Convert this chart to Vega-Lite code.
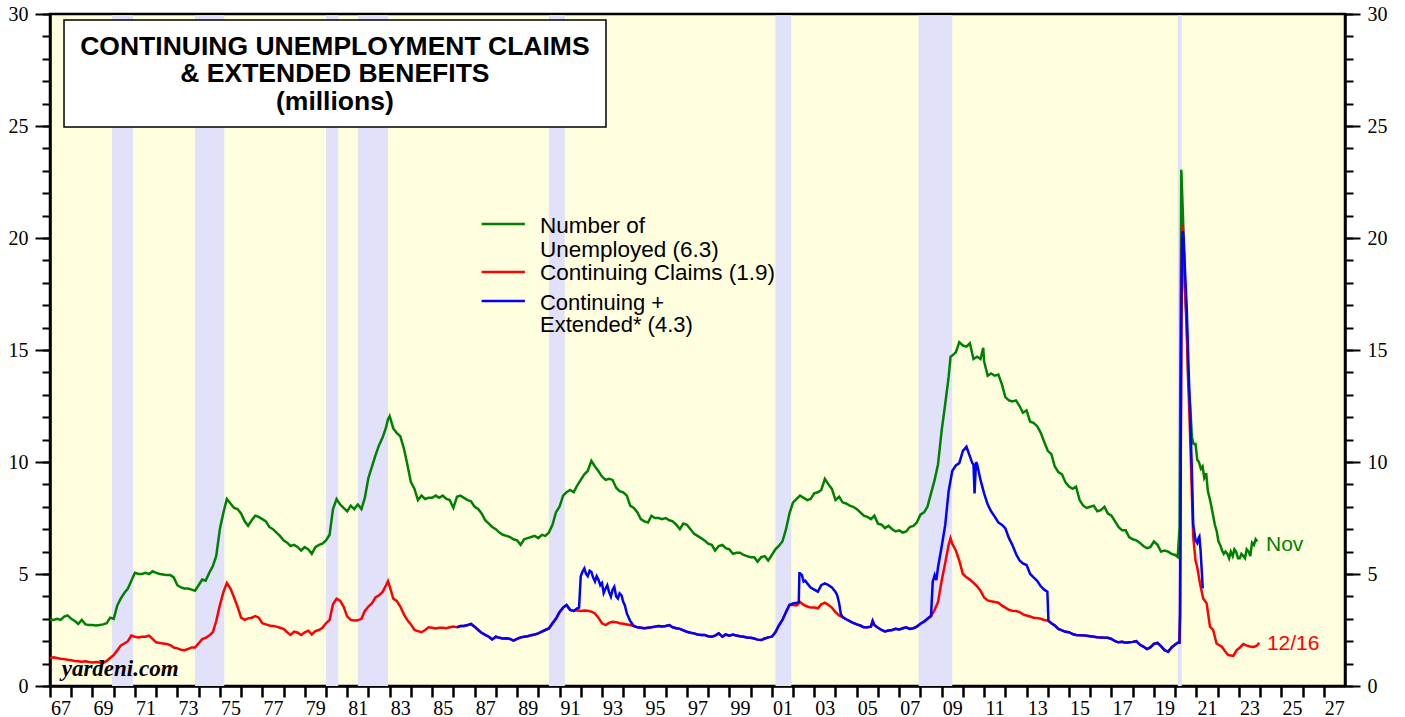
{
  "$schema": "https://vega.github.io/schema/vega-lite/v6.json",
  "width": 1295,
  "height": 672,
  "autosize": {"type": "none"},
  "padding": {"left": 50, "top": 14, "right": 60, "bottom": 31},
  "background": "#FFFFFF",
  "config": {
    "view": {"fill": "#FFFFE0", "stroke": "#000000", "strokeWidth": 2.5},
    "axis": {"labelFont": "Liberation Serif", "labelFontSize": 20, "labelColor": "#000000", "tickColor": "#000000", "domainColor": "#000000", "title": null, "grid": false, "labelOverlap": false, "labelBound": false, "labelFlush": false, "zindex": 1}
  },
  "resolve": {"axis": {"x": "independent", "y": "independent"}},
  "datasets": {
    "rec": [
      {"start": 1969.92, "end": 1970.92},
      {"start": 1973.83, "end": 1975.21},
      {"start": 1980.0, "end": 1980.58},
      {"start": 1981.5, "end": 1982.92},
      {"start": 1990.5, "end": 1991.25},
      {"start": 2001.17, "end": 2001.92},
      {"start": 2007.92, "end": 2009.5},
      {"start": 2020.12, "end": 2020.31}
    ],
    "series": [
      {"t":1967,"u":2.97,"c":1.24},{"t":1967.17,"u":2.95,"c":1.28},{"t":1967.33,"u":3.0,"c":1.25},{"t":1967.5,"u":2.95,"c":1.22},{"t":1967.67,"u":3.1,"c":1.2},{"t":1967.83,"u":3.15,"c":1.17},
      {"t":1968,"u":3.0,"c":1.15},{"t":1968.17,"u":2.9,"c":1.12},{"t":1968.33,"u":2.77,"c":1.1},{"t":1968.5,"u":2.95,"c":1.08},{"t":1968.67,"u":2.75,"c":1.1},{"t":1968.83,"u":2.72,"c":1.07},
      {"t":1969,"u":2.72,"c":1.05},{"t":1969.17,"u":2.7,"c":1.07},{"t":1969.33,"u":2.72,"c":1.05},{"t":1969.5,"u":2.75,"c":1.03},{"t":1969.67,"u":2.8,"c":1.12},{"t":1969.83,"u":3.05,"c":1.25},
      {"t":1970,"u":3.0,"c":1.38},{"t":1970.17,"u":3.6,"c":1.6},{"t":1970.33,"u":3.9,"c":1.8},{"t":1970.5,"u":4.15,"c":1.9},{"t":1970.67,"u":4.35,"c":2.0},{"t":1970.83,"u":4.7,"c":2.25},
      {"t":1971,"u":5.05,"c":2.2},{"t":1971.17,"u":5.0,"c":2.17},{"t":1971.33,"u":5.0,"c":2.2},{"t":1971.5,"u":5.05,"c":2.2},{"t":1971.67,"u":5.0,"c":2.25},{"t":1971.83,"u":5.12,"c":2.1},
      {"t":1972,"u":5.05,"c":1.95},{"t":1972.17,"u":5.0,"c":1.92},{"t":1972.33,"u":4.98,"c":1.9},{"t":1972.5,"u":4.95,"c":1.88},{"t":1972.67,"u":4.95,"c":1.82},{"t":1972.83,"u":4.85,"c":1.72},
      {"t":1973,"u":4.5,"c":1.68},{"t":1973.17,"u":4.4,"c":1.62},{"t":1973.33,"u":4.35,"c":1.6},{"t":1973.5,"u":4.35,"c":1.65},{"t":1973.67,"u":4.3,"c":1.72},{"t":1973.83,"u":4.25,"c":1.72},
      {"t":1974,"u":4.5,"c":1.9},{"t":1974.17,"u":4.75,"c":2.1},{"t":1974.33,"u":4.7,"c":2.15},{"t":1974.5,"u":5.05,"c":2.25},{"t":1974.67,"u":5.35,"c":2.4},{"t":1974.83,"u":5.8,"c":2.9},
      {"t":1975,"u":7.0,"c":3.6},{"t":1975.17,"u":7.75,"c":4.2},{"t":1975.33,"u":8.35,"c":4.6},{"t":1975.5,"u":8.15,"c":4.35},{"t":1975.67,"u":7.95,"c":3.95},{"t":1975.83,"u":7.9,"c":3.55},
      {"t":1976,"u":7.7,"c":3.05},{"t":1976.17,"u":7.35,"c":2.95},{"t":1976.33,"u":7.15,"c":3.02},{"t":1976.5,"u":7.4,"c":3.05},{"t":1976.67,"u":7.6,"c":3.12},{"t":1976.83,"u":7.55,"c":3.05},
      {"t":1977,"u":7.45,"c":2.8},{"t":1977.17,"u":7.35,"c":2.75},{"t":1977.33,"u":7.1,"c":2.7},{"t":1977.5,"u":7.0,"c":2.68},{"t":1977.67,"u":6.85,"c":2.65},{"t":1977.83,"u":6.7,"c":2.6},
      {"t":1978,"u":6.5,"c":2.55},{"t":1978.17,"u":6.4,"c":2.4},{"t":1978.33,"u":6.25,"c":2.28},{"t":1978.5,"u":6.3,"c":2.43},{"t":1978.67,"u":6.2,"c":2.38},{"t":1978.83,"u":6.05,"c":2.28},
      {"t":1979,"u":6.2,"c":2.4},{"t":1979.17,"u":6.1,"c":2.47},{"t":1979.33,"u":5.9,"c":2.3},{"t":1979.5,"u":6.2,"c":2.45},{"t":1979.67,"u":6.3,"c":2.5},{"t":1979.83,"u":6.35,"c":2.6},
      {"t":1980,"u":6.5,"c":2.8},{"t":1980.17,"u":6.75,"c":2.95},{"t":1980.33,"u":7.9,"c":3.65},{"t":1980.5,"u":8.35,"c":3.9},{"t":1980.67,"u":8.1,"c":3.8},{"t":1980.83,"u":7.95,"c":3.55},
      {"t":1981,"u":7.8,"c":3.1},{"t":1981.17,"u":8.05,"c":2.95},{"t":1981.33,"u":7.9,"c":2.92},{"t":1981.5,"u":8.1,"c":2.93},{"t":1981.67,"u":7.9,"c":3.0},{"t":1981.83,"u":8.4,"c":3.35},
      {"t":1982,"u":9.3,"c":3.55},{"t":1982.17,"u":9.8,"c":3.7},{"t":1982.33,"u":10.3,"c":3.95},{"t":1982.5,"u":10.75,"c":4.05},{"t":1982.67,"u":11.1,"c":4.2},{"t":1982.83,"u":11.55,"c":4.5},{"t":1982.92,"u":11.9,"c":4.68},
      {"t":1983,"u":12.05,"c":4.45},{"t":1983.17,"u":11.5,"c":3.9},{"t":1983.33,"u":11.3,"c":3.8},{"t":1983.5,"u":11.15,"c":3.55},{"t":1983.67,"u":10.6,"c":3.2},{"t":1983.83,"u":9.9,"c":2.95},
      {"t":1984,"u":9.1,"c":2.75},{"t":1984.17,"u":8.8,"c":2.5},{"t":1984.33,"u":8.3,"c":2.45},{"t":1984.5,"u":8.5,"c":2.4},{"t":1984.67,"u":8.35,"c":2.5},{"t":1984.83,"u":8.4,"c":2.62},
      {"t":1985,"u":8.4,"c":2.6},{"t":1985.17,"u":8.5,"c":2.57},{"t":1985.33,"u":8.4,"c":2.6},{"t":1985.5,"u":8.5,"c":2.6},{"t":1985.67,"u":8.35,"c":2.58},{"t":1985.83,"u":8.3,"c":2.62},
      {"t":1986,"u":7.95,"c":2.65},{"t":1986.17,"u":8.45,"c":2.62,"e":2.62},{"t":1986.33,"u":8.5,"c":2.68,"e":2.68},{"t":1986.5,"u":8.4,"c":2.68,"e":2.68},{"t":1986.67,"u":8.3,"c":2.72,"e":2.72},{"t":1986.83,"u":8.25,"c":2.77,"e":2.77},
      {"t":1987,"u":8.0,"c":2.65,"e":2.65},{"t":1987.17,"u":7.9,"c":2.5,"e":2.5},{"t":1987.33,"u":7.7,"c":2.38,"e":2.38},{"t":1987.5,"u":7.4,"c":2.28,"e":2.28},{"t":1987.67,"u":7.25,"c":2.2,"e":2.2},{"t":1987.83,"u":7.1,"c":2.08,"e":2.08},
      {"t":1988,"u":7.0,"c":2.2,"e":2.2},{"t":1988.17,"u":6.85,"c":2.15,"e":2.15},{"t":1988.33,"u":6.75,"c":2.12,"e":2.12},{"t":1988.5,"u":6.7,"c":2.13,"e":2.13},{"t":1988.67,"u":6.65,"c":2.1,"e":2.1},{"t":1988.83,"u":6.55,"c":2.03,"e":2.03},
      {"t":1989,"u":6.5,"c":2.1,"e":2.1},{"t":1989.17,"u":6.3,"c":2.17,"e":2.17},{"t":1989.33,"u":6.55,"c":2.2,"e":2.2},{"t":1989.5,"u":6.6,"c":2.22,"e":2.22},{"t":1989.67,"u":6.65,"c":2.27,"e":2.27},{"t":1989.83,"u":6.7,"c":2.3,"e":2.3},
      {"t":1990,"u":6.6,"c":2.35,"e":2.35},{"t":1990.17,"u":6.75,"c":2.43,"e":2.43},{"t":1990.33,"u":6.7,"c":2.5,"e":2.5},{"t":1990.5,"u":6.85,"c":2.57,"e":2.57},{"t":1990.67,"u":7.2,"c":2.8,"e":2.8},{"t":1990.83,"u":7.75,"c":3.0,"e":3.0},
      {"t":1991,"u":8.0,"c":3.3,"e":3.3},{"t":1991.17,"u":8.5,"c":3.5,"e":3.5},{"t":1991.33,"u":8.65,"c":3.62,"e":3.62},{"t":1991.5,"u":8.75,"c":3.4,"e":3.4},{"t":1991.67,"u":8.65,"c":3.35,"e":3.35},{"t":1991.83,"u":8.95,"c":3.38,"e":3.47},{"t":1991.92,"e":3.5},
      {"t":1992,"u":9.2,"c":3.35,"e":4.9},{"t":1992.08,"e":5.1},{"t":1992.17,"u":9.45,"c":3.37,"e":5.25},{"t":1992.25,"e":5.0},{"t":1992.33,"u":9.6,"c":3.36,"e":4.9},{"t":1992.42,"e":5.15},{"t":1992.5,"u":10.05,"c":3.32,"e":5.1},{"t":1992.58,"e":4.85},{"t":1992.67,"u":9.8,"c":3.24,"e":4.66},{"t":1992.75,"e":4.9},{"t":1992.83,"u":9.6,"c":3.05,"e":4.75},{"t":1992.92,"e":4.5},
      {"t":1993,"u":9.35,"c":2.8,"e":4.6},{"t":1993.08,"e":4.15},{"t":1993.17,"u":9.2,"c":2.72,"e":4.35},{"t":1993.25,"e":4.5},{"t":1993.33,"u":9.25,"c":2.82,"e":4.2},{"t":1993.42,"e":3.99},{"t":1993.5,"u":9.2,"c":2.87,"e":4.3},{"t":1993.58,"e":4.43},{"t":1993.67,"u":8.85,"c":2.85,"e":4.0},{"t":1993.75,"e":3.91},{"t":1993.83,"u":8.7,"c":2.8,"e":4.14},{"t":1993.92,"e":4.05},
      {"t":1994,"u":8.65,"c":2.78,"e":3.76},{"t":1994.08,"e":3.6},{"t":1994.17,"u":8.5,"c":2.75,"e":3.24},{"t":1994.33,"u":8.05,"c":2.72,"e":2.9},{"t":1994.5,"u":7.95,"c":2.68,"e":2.68},{"t":1994.67,"u":7.75,"c":2.62,"e":2.62},{"t":1994.83,"u":7.45,"c":2.6,"e":2.6},
      {"t":1995,"u":7.35,"c":2.58,"e":2.58},{"t":1995.17,"u":7.3,"c":2.6,"e":2.6},{"t":1995.33,"u":7.6,"c":2.62,"e":2.62},{"t":1995.5,"u":7.5,"c":2.65,"e":2.65},{"t":1995.67,"u":7.5,"c":2.68,"e":2.68},{"t":1995.83,"u":7.45,"c":2.66,"e":2.66},
      {"t":1996,"u":7.5,"c":2.68,"e":2.68},{"t":1996.17,"u":7.4,"c":2.72,"e":2.72},{"t":1996.33,"u":7.35,"c":2.62,"e":2.62},{"t":1996.5,"u":7.2,"c":2.58,"e":2.58},{"t":1996.67,"u":7.0,"c":2.55,"e":2.55},{"t":1996.83,"u":7.25,"c":2.48,"e":2.48},
      {"t":1997,"u":7.2,"c":2.42,"e":2.42},{"t":1997.17,"u":7.0,"c":2.38,"e":2.38},{"t":1997.33,"u":6.8,"c":2.35,"e":2.35},{"t":1997.5,"u":6.7,"c":2.3,"e":2.3},{"t":1997.67,"u":6.6,"c":2.28,"e":2.28},{"t":1997.83,"u":6.5,"c":2.28,"e":2.28},
      {"t":1998,"u":6.35,"c":2.22,"e":2.22},{"t":1998.17,"u":6.3,"c":2.2,"e":2.2},{"t":1998.33,"u":6.05,"c":2.25,"e":2.25},{"t":1998.5,"u":6.25,"c":2.35,"e":2.35},{"t":1998.67,"u":6.3,"c":2.2,"e":2.2},{"t":1998.83,"u":6.15,"c":2.3,"e":2.3},
      {"t":1999,"u":6.1,"c":2.25,"e":2.25},{"t":1999.17,"u":5.9,"c":2.3,"e":2.3},{"t":1999.33,"u":5.95,"c":2.25,"e":2.25},{"t":1999.5,"u":5.95,"c":2.22,"e":2.22},{"t":1999.67,"u":5.85,"c":2.2,"e":2.2},{"t":1999.83,"u":5.8,"c":2.17,"e":2.17},
      {"t":2000,"u":5.75,"c":2.15,"e":2.15},{"t":2000.17,"u":5.75,"c":2.12,"e":2.12},{"t":2000.33,"u":5.55,"c":2.07,"e":2.07},{"t":2000.5,"u":5.75,"c":2.05,"e":2.05},{"t":2000.67,"u":5.8,"c":2.12,"e":2.12},{"t":2000.83,"u":5.6,"c":2.17,"e":2.17},
      {"t":2001,"u":5.85,"c":2.2,"e":2.2},{"t":2001.17,"u":6.1,"c":2.4,"e":2.4},{"t":2001.33,"u":6.25,"c":2.7,"e":2.7},{"t":2001.5,"u":6.45,"c":2.95,"e":2.95},{"t":2001.67,"u":7.0,"c":3.3,"e":3.3},{"t":2001.83,"u":7.7,"c":3.62,"e":3.62},
      {"t":2002,"u":8.2,"c":3.62,"e":3.69},{"t":2002.17,"u":8.35,"c":3.6,"e":3.72},{"t":2002.27,"e":3.75},{"t":2002.3,"e":5.03},{"t":2002.33,"u":8.5,"c":3.75,"e":5.03},{"t":2002.42,"e":4.95},{"t":2002.5,"u":8.4,"c":3.62,"e":4.66},{"t":2002.58,"e":4.7},{"t":2002.67,"u":8.3,"c":3.55,"e":4.58},{"t":2002.83,"u":8.35,"c":3.5,"e":4.4},
      {"t":2003,"u":8.6,"c":3.5,"e":4.3},{"t":2003.17,"u":8.65,"c":3.47,"e":4.21},{"t":2003.33,"u":8.75,"c":3.65,"e":4.5},{"t":2003.5,"u":9.25,"c":3.72,"e":4.58},{"t":2003.67,"u":9.0,"c":3.62,"e":4.5},{"t":2003.83,"u":8.8,"c":3.5,"e":4.4},
      {"t":2004,"u":8.3,"c":3.3,"e":4.2},{"t":2004.08,"e":4.05},{"t":2004.17,"u":8.45,"c":3.15,"e":3.7},{"t":2004.25,"e":3.22},{"t":2004.33,"u":8.2,"c":3.08,"e":3.08},{"t":2004.5,"u":8.15,"c":2.98,"e":2.98},{"t":2004.67,"u":8.05,"c":2.9,"e":2.9},{"t":2004.83,"u":8.0,"c":2.82,"e":2.82},
      {"t":2005,"u":7.9,"c":2.75,"e":2.75},{"t":2005.17,"u":7.75,"c":2.7,"e":2.7},{"t":2005.33,"u":7.6,"c":2.62,"e":2.62},{"t":2005.5,"u":7.55,"c":2.62,"e":2.62},{"t":2005.67,"u":7.45,"c":2.65,"e":2.65},{"t":2005.75,"c":2.9,"e":2.9},{"t":2005.83,"u":7.6,"c":2.72,"e":2.72},
      {"t":2006,"u":7.25,"c":2.6,"e":2.6},{"t":2006.17,"u":7.2,"c":2.5,"e":2.5},{"t":2006.33,"u":7.05,"c":2.44,"e":2.44},{"t":2006.5,"u":7.15,"c":2.48,"e":2.48},{"t":2006.67,"u":7.0,"c":2.5,"e":2.5},{"t":2006.83,"u":6.9,"c":2.55,"e":2.55},
      {"t":2007,"u":6.95,"c":2.52,"e":2.52},{"t":2007.17,"u":6.85,"c":2.58,"e":2.58},{"t":2007.33,"u":6.9,"c":2.62,"e":2.62},{"t":2007.5,"u":7.1,"c":2.55,"e":2.55},{"t":2007.67,"u":7.15,"c":2.58,"e":2.58},{"t":2007.83,"u":7.3,"c":2.65,"e":2.65},
      {"t":2008,"u":7.65,"c":2.78,"e":2.78},{"t":2008.17,"u":7.75,"c":2.87,"e":2.87},{"t":2008.33,"u":8.0,"c":3.0,"e":3.0},{"t":2008.5,"u":8.6,"c":3.12,"e":3.12},{"t":2008.58,"e":4.66},{"t":2008.67,"u":9.2,"c":3.4,"e":4.95},{"t":2008.75,"e":4.73},{"t":2008.83,"u":9.9,"c":3.75,"e":5.3},
      {"t":2009,"u":11.4,"c":4.7,"e":6.22},{"t":2009.17,"u":12.6,"c":5.5,"e":7.2},{"t":2009.33,"u":13.8,"c":6.3,"e":8.7},{"t":2009.42,"u":14.7,"c":6.6},{"t":2009.5,"u":14.75,"c":6.35,"e":9.6},{"t":2009.67,"u":14.9,"c":6.05,"e":9.85},{"t":2009.83,"u":15.35,"c":5.6,"e":9.95},
      {"t":2010,"u":15.2,"c":5.0,"e":10.5},{"t":2010.17,"u":15.15,"c":4.85,"e":10.68},{"t":2010.33,"u":15.3,"c":4.75,"e":10.25},{"t":2010.45,"e":9.94},{"t":2010.5,"u":14.6,"c":4.6,"e":9.9},{"t":2010.55,"e":8.6},{"t":2010.62,"e":10.0},{"t":2010.67,"u":14.7,"c":4.45,"e":9.9},{"t":2010.83,"u":14.6,"c":4.25,"e":9.2},{"t":2010.96,"u":15.1},
      {"t":2011,"u":14.5,"c":3.95,"e":8.6},{"t":2011.17,"u":13.85,"c":3.82,"e":8.1},{"t":2011.33,"u":13.95,"c":3.78,"e":7.8},{"t":2011.5,"u":13.85,"c":3.75,"e":7.56},{"t":2011.67,"u":13.9,"c":3.72,"e":7.3},{"t":2011.83,"u":13.5,"c":3.6,"e":7.2},
      {"t":2012,"u":12.9,"c":3.5,"e":7.04},{"t":2012.17,"u":12.75,"c":3.4,"e":6.6},{"t":2012.33,"u":12.7,"c":3.36,"e":6.3},{"t":2012.5,"u":12.75,"c":3.35,"e":5.9},{"t":2012.67,"u":12.5,"c":3.3,"e":5.6},{"t":2012.83,"u":12.2,"c":3.2,"e":5.47},
      {"t":2013,"u":12.3,"c":3.15,"e":5.4},{"t":2013.17,"u":11.8,"c":3.1,"e":5.0},{"t":2013.33,"u":11.75,"c":3.05,"e":4.85},{"t":2013.5,"u":11.6,"c":3.03,"e":4.7},{"t":2013.67,"u":11.3,"c":3.0,"e":4.45},{"t":2013.83,"u":10.9,"c":2.95,"e":4.3},{"t":2013.98,"e":4.21},
      {"t":2014,"u":10.5,"c":2.92},{"t":2014.03,"e":2.92},{"t":2014.17,"u":10.35,"c":2.8,"e":2.8},{"t":2014.33,"u":9.8,"c":2.7,"e":2.7},{"t":2014.5,"u":9.55,"c":2.55,"e":2.55},{"t":2014.67,"u":9.45,"c":2.48,"e":2.48},{"t":2014.83,"u":9.1,"c":2.42,"e":2.42},
      {"t":2015,"u":8.9,"c":2.4,"e":2.4},{"t":2015.17,"u":8.8,"c":2.32,"e":2.32},{"t":2015.33,"u":8.9,"c":2.28,"e":2.28},{"t":2015.5,"u":8.3,"c":2.27,"e":2.27},{"t":2015.67,"u":8.05,"c":2.26,"e":2.26},{"t":2015.83,"u":7.95,"c":2.24,"e":2.24},
      {"t":2016,"u":8.0,"c":2.22,"e":2.22},{"t":2016.17,"u":8.05,"c":2.2,"e":2.2},{"t":2016.33,"u":7.8,"c":2.18,"e":2.18},{"t":2016.5,"u":7.85,"c":2.17,"e":2.17},{"t":2016.67,"u":8.0,"c":2.15,"e":2.15},{"t":2016.83,"u":7.7,"c":2.15,"e":2.15},
      {"t":2017,"u":7.6,"c":2.1,"e":2.1},{"t":2017.17,"u":7.35,"c":2.0,"e":2.0},{"t":2017.33,"u":7.1,"c":1.95,"e":1.95},{"t":2017.5,"u":6.95,"c":1.97,"e":1.97},{"t":2017.67,"u":6.95,"c":1.93,"e":1.93},{"t":2017.83,"u":6.65,"c":1.95,"e":1.95},
      {"t":2018,"u":6.55,"c":1.97,"e":1.97},{"t":2018.17,"u":6.5,"c":2.0,"e":2.0},{"t":2018.33,"u":6.4,"c":1.85,"e":1.85},{"t":2018.5,"u":6.25,"c":1.76,"e":1.76},{"t":2018.67,"u":6.15,"c":1.65,"e":1.65},{"t":2018.83,"u":6.2,"c":1.72,"e":1.72},
      {"t":2019,"u":6.45,"c":1.88,"e":1.88},{"t":2019.17,"u":6.3,"c":1.92,"e":1.92},{"t":2019.33,"u":6.0,"c":1.78,"e":1.78},{"t":2019.5,"u":6.05,"c":1.6,"e":1.6},{"t":2019.67,"u":6.0,"c":1.53,"e":1.53},{"t":2019.83,"u":5.9,"c":1.72,"e":1.72},
      {"t":2020,"u":5.85,"c":1.85,"e":1.85},{"t":2020.12,"u":5.76,"c":1.93,"e":1.93},{"t":2020.2,"c":1.93,"e":1.93},{"t":2020.21,"u":7.1},{"t":2020.23,"c":3.2,"e":3.2},{"t":2020.25,"c":7.5,"e":7.5},{"t":2020.27,"c":12,"e":12},{"t":2020.29,"u":23.05,"c":16,"e":16},{"t":2020.31,"c":18.5,"e":18.6},{"t":2020.33,"c":20.3,"e":20.1},{"t":2020.36,"c":20.6,"e":20.3},{"t":2020.37,"u":20.9},{"t":2020.4,"c":19.6,"e":20.0},{"t":2020.46,"u":17.7,"c":17.8,"e":18.6},{"t":2020.54,"u":16.3,"c":16,"e":17},{"t":2020.62,"u":13.5,"c":13.5,"e":14.5},{"t":2020.71,"u":12.5,"c":11,"e":12},{"t":2020.79,"u":11.1,"c":8.5,"e":9.5},{"t":2020.85,"c":6.67,"e":7.2},{"t":2020.87,"u":10.8},{"t":2020.96,"u":10.8,"c":5.6,"e":6.5},
      {"t":2021.04,"u":10.1,"c":5.3,"e":6.38},{"t":2021.1,"e":6.6},{"t":2021.12,"u":10.0},{"t":2021.14,"e":6.67},{"t":2021.17,"c":4.58},{"t":2021.2,"e":6.0},{"t":2021.21,"u":9.7},{"t":2021.29,"u":9.8},{"t":2021.3,"e":4.36},{"t":2021.32,"c":3.91},{"t":2021.37,"u":9.3},{"t":2021.46,"u":9.5},{"t":2021.48,"c":3.7},{"t":2021.54,"u":8.7},{"t":2021.62,"u":8.4},{"t":2021.64,"c":2.65},{"t":2021.71,"u":8.0},{"t":2021.79,"u":7.6,"c":2.5},{"t":2021.87,"u":7.2},{"t":2021.95,"c":1.9},{"t":2021.96,"u":6.9},
      {"t":2022.04,"u":6.45,"c":1.84},{"t":2022.12,"u":6.3},{"t":2022.19,"c":1.76},{"t":2022.21,"u":6.05},{"t":2022.29,"u":5.9},{"t":2022.35,"c":1.55},{"t":2022.37,"u":6.0},{"t":2022.46,"u":5.9},{"t":2022.5,"c":1.38},{"t":2022.54,"u":5.7},{"t":2022.62,"u":6.0,"c":1.36},{"t":2022.71,"u":5.8},{"t":2022.74,"c":1.34},{"t":2022.79,"u":6.1},{"t":2022.87,"u":6.0},{"t":2022.9,"c":1.6},{"t":2022.96,"u":5.7},
      {"t":2023.04,"u":5.7},{"t":2023.05,"c":1.72},{"t":2023.12,"u":5.9},{"t":2023.21,"u":5.8,"c":1.87},{"t":2023.29,"u":5.7},{"t":2023.37,"u":6.1,"c":1.8},{"t":2023.46,"u":6.0},{"t":2023.52,"c":1.76},{"t":2023.54,"u":5.8},{"t":2023.62,"u":6.4},{"t":2023.7,"c":1.74},{"t":2023.71,"u":6.3},{"t":2023.79,"u":6.55},{"t":2023.85,"c":1.8},{"t":2023.87,"u":6.45},{"t":2023.96,"c":1.93}
    ]
  },
  "layer": [
    {
      "data": {"name": "rec"},
      "mark": {"type": "rect", "color": "#E1E1F9"},
      "encoding": {
        "x": {"field": "start", "type": "quantitative", "scale": {"domain": [1967, 2028], "nice": false, "zero": false},
          "axis": {"orient": "bottom", "values": [1967,1968,1969,1970,1971,1972,1973,1974,1975,1976,1977,1978,1979,1980,1981,1982,1983,1984,1985,1986,1987,1988,1989,1990,1991,1992,1993,1994,1995,1996,1997,1998,1999,2000,2001,2002,2003,2004,2005,2006,2007,2008,2009,2010,2011,2012,2013,2014,2015,2016,2017,2018,2019,2020,2021,2022,2023,2024,2025,2026,2027],
            "format": "d", "labelExpr": "datum.value % 2 == 1 ? substring(datum.label, 2, 4) : ''", "labelOffset": 10.6, "tickSize": 11, "tickWidth": 2.5, "domain": true, "domainWidth": 2.5, "labelPadding": 1}},
        "x2": {"field": "end"},
        "y": {"datum": 0, "type": "quantitative", "scale": {"domain": [0, 30], "nice": false},
          "axis": {"orient": "left", "values": [0,1,2,3,4,5,6,7,8,9,10,11,12,13,14,15,16,17,18,19,20,21,22,23,24,25,26,27,28,29,30], "tickSize": 8, "tickWidth": 2, "labels": false, "domain": false}},
        "y2": {"datum": 29.94}
      }
    },
    {
      "data": {"values": [{}]},
      "mark": {"type": "rect", "fill": "#FFFFFF", "stroke": "#000000", "strokeWidth": 1.5},
      "encoding": {
        "x": {"datum": 1967.66, "type": "quantitative", "scale": {"domain": [1967, 2028], "nice": false, "zero": false}, "axis": null},
        "x2": {"datum": 1993.19},
        "y": {"datum": 24.96, "type": "quantitative", "scale": {"domain": [0, 30], "nice": false},
          "axis": {"orient": "right", "values": [0,1,2,3,4,5,6,7,8,9,10,11,12,13,14,15,16,17,18,19,20,21,22,23,24,25,26,27,28,29,30], "tickSize": 8, "tickWidth": 2, "labels": false, "domain": false}},
        "y2": {"datum": 29.73}
      }
    },
    {
      "data": {"name": "series"},
      "transform": [{"filter": "isValid(datum.u)"}],
      "mark": {"type": "line", "color": "#008000", "strokeWidth": 2.5},
      "encoding": {
        "x": {"field": "t", "type": "quantitative", "scale": {"domain": [1967, 2028], "nice": false, "zero": false}, "axis": null},
        "y": {"field": "u", "type": "quantitative", "scale": {"domain": [0, 30], "nice": false},
          "axis": {"orient": "left", "values": [0, 5, 10, 15, 20, 25, 30], "tickSize": 15, "tickWidth": 2, "labelPadding": 7, "domain": true, "domainWidth": 2.5}}
      }
    },
    {
      "data": {"name": "series"},
      "transform": [{"filter": "isValid(datum.c)"}],
      "mark": {"type": "line", "color": "#FF0000", "strokeWidth": 2.5},
      "encoding": {
        "x": {"field": "t", "type": "quantitative", "scale": {"domain": [1967, 2028], "nice": false, "zero": false}, "axis": null},
        "y": {"field": "c", "type": "quantitative", "scale": {"domain": [0, 30], "nice": false}, "axis": null}
      }
    },
    {
      "data": {"name": "series"},
      "transform": [{"filter": "isValid(datum.e)"}],
      "mark": {"type": "line", "color": "#0000FF", "strokeWidth": 2.5},
      "encoding": {
        "x": {"field": "t", "type": "quantitative", "scale": {"domain": [1967, 2028], "nice": false, "zero": false}, "axis": null},
        "y": {"field": "e", "type": "quantitative", "scale": {"domain": [0, 30], "nice": false}, "axis": null}
      }
    },
    {
      "data": {"values": [{}]},
      "mark": {"type": "text", "text": ["CONTINUING UNEMPLOYMENT CLAIMS", "& EXTENDED BENEFITS", "(millions)"], "font": "Liberation Sans", "fontWeight": "bold", "fontSize": 26.5, "lineHeight": 27.5, "align": "center", "baseline": "alphabetic", "color": "#000000"},
      "encoding": {
        "x": {"datum": 1980.42, "type": "quantitative", "scale": {"domain": [1967, 2028], "nice": false, "zero": false}, "axis": null},
        "y": {"datum": 28.17, "type": "quantitative", "scale": {"domain": [0, 30], "nice": false},
          "axis": {"orient": "right", "values": [0, 5, 10, 15, 20, 25, 30], "tickSize": 15, "tickWidth": 2, "labelPadding": 7, "domain": true, "domainWidth": 2.5}}
      }
    },
    {
      "data": {"values": [{}]},
      "mark": {"type": "rule", "color": "#008000", "strokeWidth": 2.5},
      "encoding": {
        "x": {"datum": 1987.33, "type": "quantitative", "scale": {"domain": [1967, 2028], "nice": false, "zero": false}, "axis": null},
        "x2": {"datum": 1989.37},
        "y": {"datum": 20.625, "type": "quantitative", "scale": {"domain": [0, 30], "nice": false}, "axis": null}
      }
    },
    {
      "data": {"values": [{}]},
      "mark": {"type": "rule", "color": "#FF0000", "strokeWidth": 2.5},
      "encoding": {
        "x": {"datum": 1987.33, "type": "quantitative", "scale": {"domain": [1967, 2028], "nice": false, "zero": false}, "axis": null},
        "x2": {"datum": 1989.37},
        "y": {"datum": 18.48, "type": "quantitative", "scale": {"domain": [0, 30], "nice": false}, "axis": null}
      }
    },
    {
      "data": {"values": [{}]},
      "mark": {"type": "rule", "color": "#0000FF", "strokeWidth": 2.5},
      "encoding": {
        "x": {"datum": 1987.33, "type": "quantitative", "scale": {"domain": [1967, 2028], "nice": false, "zero": false}, "axis": null},
        "x2": {"datum": 1989.37},
        "y": {"datum": 17.19, "type": "quantitative", "scale": {"domain": [0, 30], "nice": false}, "axis": null}
      }
    },
    {
      "data": {"values": [{}]},
      "mark": {"type": "text", "text": ["Number of", "Unemployed (6.3)"], "font": "Liberation Sans", "fontSize": 22.5, "lineHeight": 23.4, "align": "left", "baseline": "alphabetic", "color": "#000000"},
      "encoding": {
        "x": {"datum": 1990.08, "type": "quantitative", "scale": {"domain": [1967, 2028], "nice": false, "zero": false}, "axis": null},
        "y": {"datum": 20.21, "type": "quantitative", "scale": {"domain": [0, 30], "nice": false}, "axis": null}
      }
    },
    {
      "data": {"values": [{}]},
      "mark": {"type": "text", "text": "Continuing Claims (1.9)", "font": "Liberation Sans", "fontSize": 22.5, "align": "left", "baseline": "alphabetic", "color": "#000000"},
      "encoding": {
        "x": {"datum": 1990.08, "type": "quantitative", "scale": {"domain": [1967, 2028], "nice": false, "zero": false}, "axis": null},
        "y": {"datum": 18.125, "type": "quantitative", "scale": {"domain": [0, 30], "nice": false}, "axis": null}
      }
    },
    {
      "data": {"values": [{}]},
      "mark": {"type": "text", "text": ["Continuing +", "Extended* (4.3)"], "font": "Liberation Sans", "fontSize": 22, "lineHeight": 22.5, "align": "left", "baseline": "alphabetic", "color": "#000000"},
      "encoding": {
        "x": {"datum": 1990.08, "type": "quantitative", "scale": {"domain": [1967, 2028], "nice": false, "zero": false}, "axis": null},
        "y": {"datum": 16.79, "type": "quantitative", "scale": {"domain": [0, 30], "nice": false}, "axis": null}
      }
    },
    {
      "data": {"values": [{}]},
      "mark": {"type": "text", "text": "Nov", "font": "Liberation Sans", "fontSize": 21, "align": "left", "baseline": "middle", "color": "#008000"},
      "encoding": {
        "x": {"datum": 2024.28, "type": "quantitative", "scale": {"domain": [1967, 2028], "nice": false, "zero": false}, "axis": null},
        "y": {"datum": 6.29, "type": "quantitative", "scale": {"domain": [0, 30], "nice": false}, "axis": null}
      }
    },
    {
      "data": {"values": [{}]},
      "mark": {"type": "text", "text": "12/16", "font": "Liberation Sans", "fontSize": 21, "align": "left", "baseline": "middle", "color": "#FF0000"},
      "encoding": {
        "x": {"datum": 2024.32, "type": "quantitative", "scale": {"domain": [1967, 2028], "nice": false, "zero": false}, "axis": null},
        "y": {"datum": 1.875, "type": "quantitative", "scale": {"domain": [0, 30], "nice": false}, "axis": null}
      }
    },
    {
      "data": {"values": [{}]},
      "mark": {"type": "text", "text": "yardeni.com", "font": "Liberation Serif", "fontWeight": "bold", "fontStyle": "italic", "fontSize": 23, "align": "left", "baseline": "alphabetic", "color": "#000000"},
      "encoding": {
        "x": {"datum": 1967.55, "type": "quantitative", "scale": {"domain": [1967, 2028], "nice": false, "zero": false}, "axis": null},
        "y": {"datum": 0.446, "type": "quantitative", "scale": {"domain": [0, 30], "nice": false}, "axis": null}
      }
    }
  ]
}
